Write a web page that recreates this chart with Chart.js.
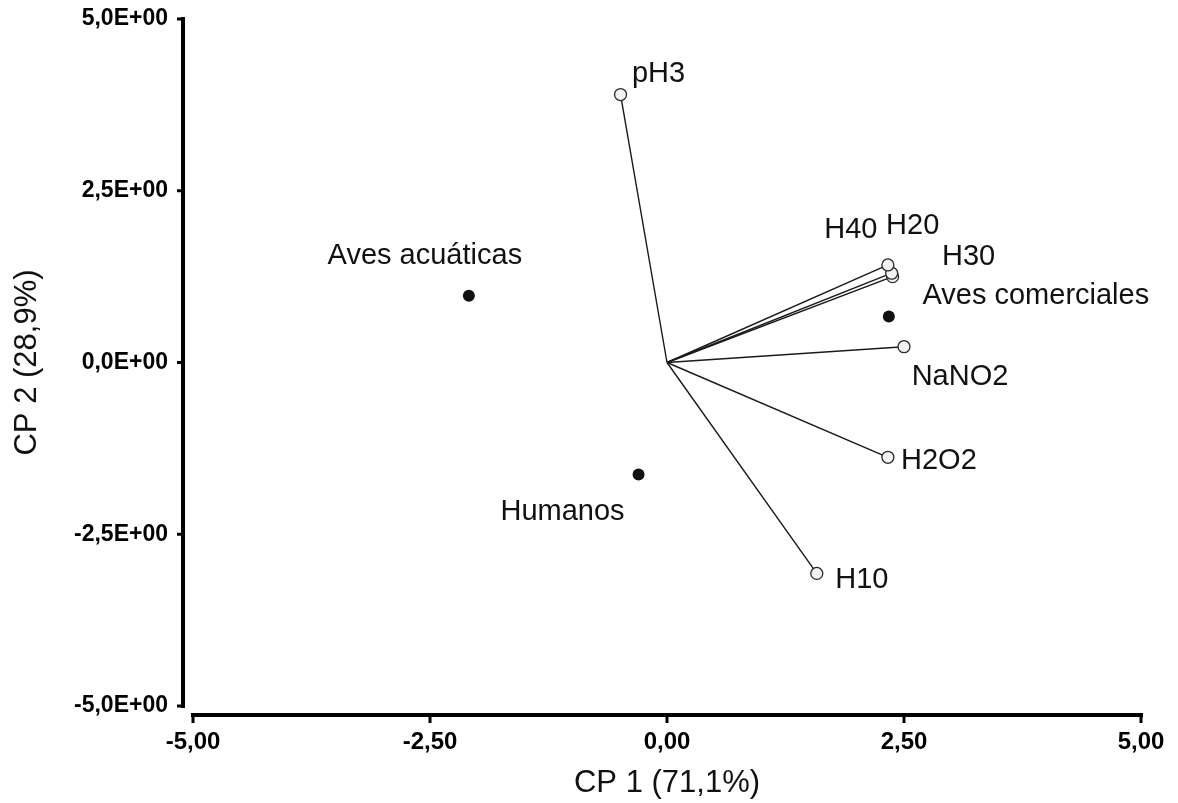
<!DOCTYPE html>
<html>
<head>
<meta charset="utf-8">
<script src="https://cdn.jsdelivr.net/npm/chart.js@4"></script>
<style>
  body { margin: 0; background: #fff; }
  #wrap { width: 1178px; height: 803px; }
</style>
</head>
<body>
<div id="wrap"><canvas id="myChart" width="1178" height="803"></canvas></div>
<script>
// variables (open circles, vectors from origin)
const varNames = ["pH3", "H40", "H20", "H30", "NaNO2", "H2O2", "H10"];
const varCP1 = [-0.49, 2.33, 2.37, 2.38, 2.50, 2.33, 1.58];
const varCP2 = [3.90, 1.42, 1.30, 1.25, 0.23, -1.38, -3.07];

// groups (filled circles)
const groupNames = ["Aves acuáticas", "Humanos", "Aves comerciales"];
const groupCP1 = [-2.09, -0.30, 2.34];
const groupCP2 = [0.97, -1.63, 0.67];

const xTicks = [-5, -2.5, 0, 2.5, 5];
const yTicks = [-5, -2.5, 0, 2.5, 5];

// label offsets in px (text centre relative to point)
const labelOffset = {
  "pH3": [38, -21],
  "H40": [-37, -35],
  "H20": [21, -47],
  "H30": [76, -20],
  "NaNO2": [56, 30],
  "H2O2": [51, 4],
  "H10": [45, 7],
  "Aves acuáticas": [-44, -40],
  "Humanos": [-76, 38],
  "Aves comerciales": [147, -20],
};

function fmtX(v) {
  return v.toFixed(2).replace(".", ",");
}
function fmtY(v) {
  const parts = v.toExponential(1).split("e");
  const sign = parts[1][0];
  const exp = parts[1].slice(1).padStart(2, "0");
  return parts[0].replace(".", ",") + "E" + sign + exp;
}

const datasets = [];
varNames.forEach((name, i) => {
  datasets.push({
    label: name,
    data: [{ x: 0, y: 0 }, { x: varCP1[i], y: varCP2[i] }],
    showLine: true,
    borderColor: "#1a1a1a",
    borderWidth: 1.4,
    pointRadius: [0, 6],
    pointBackgroundColor: "#f2f2f2",
    pointBorderColor: "#2a2a2a",
    pointBorderWidth: 1.3,
  });
});
datasets.push({
  label: "grupos",
  data: groupNames.map((n, i) => ({ x: groupCP1[i], y: groupCP2[i] })),
  showLine: false,
  pointRadius: 6,
  pointBackgroundColor: "#111",
  pointBorderColor: "#111",
  pointBorderWidth: 0,
});

// offset axes (Prism style) + point labels
const axesPlugin = {
  id: "axesPlugin",
  afterDraw(chart) {
    const ctx = chart.ctx;
    const xs = chart.scales.x;
    const ys = chart.scales.y;
    ctx.save();
    ctx.strokeStyle = "#000";
    ctx.lineWidth = 4;
    ctx.lineCap = "butt";
    // y axis
    const ax = xs.left - 10;
    ctx.beginPath();
    ctx.moveTo(ax, ys.getPixelForValue(5) - 2);
    ctx.lineTo(ax, ys.getPixelForValue(-5) + 2);
    ctx.stroke();
    ctx.lineWidth = 3;
    yTicks.forEach((t) => {
      const py = ys.getPixelForValue(t);
      ctx.beginPath();
      ctx.moveTo(ax - 6, py);
      ctx.lineTo(ax, py);
      ctx.stroke();
    });
    // x axis
    const ay = ys.bottom + 9;
    ctx.lineWidth = 4;
    ctx.beginPath();
    ctx.moveTo(xs.getPixelForValue(-5) - 2, ay);
    ctx.lineTo(xs.getPixelForValue(5) + 2, ay);
    ctx.stroke();
    ctx.lineWidth = 3;
    xTicks.forEach((t) => {
      const px = xs.getPixelForValue(t);
      ctx.beginPath();
      ctx.moveTo(px, ay);
      ctx.lineTo(px, ay + 8);
      ctx.stroke();
    });

    // labels
    ctx.fillStyle = "#111";
    ctx.font = "29px 'Liberation Sans', Arial, sans-serif";
    ctx.textAlign = "center";
    ctx.textBaseline = "middle";
    varNames.forEach((n, i) => {
      const o = labelOffset[n];
      ctx.fillText(n, xs.getPixelForValue(varCP1[i]) + o[0], ys.getPixelForValue(varCP2[i]) + o[1]);
    });
    groupNames.forEach((n, i) => {
      const o = labelOffset[n];
      ctx.fillText(n, xs.getPixelForValue(groupCP1[i]) + o[0], ys.getPixelForValue(groupCP2[i]) + o[1]);
    });
    ctx.restore();
  },
};

const ctx = document.getElementById("myChart").getContext("2d");
const myChart = new Chart(ctx, {
  type: "scatter",
  data: { datasets: datasets },
  plugins: [axesPlugin],
  options: {
    responsive: false,
    animation: false,
    layout: { padding: { top: 19, right: 37, left: 0, bottom: 0 } },
    plugins: { legend: { display: false }, tooltip: { enabled: false } },
    scales: {
      x: {
        type: "linear",
        min: -5,
        max: 5,
        afterBuildTicks: (s) => { s.ticks = xTicks.map((v) => ({ value: v })); },
        afterFit: (s) => {
          s.height = 97;
          s.paddingLeft = 0;
          s.paddingRight = 0;
        },
        grid: { display: false, drawTicks: false },
        border: { display: false },
        ticks: {
          padding: 22,
          color: "#000",
          font: { family: "'Liberation Sans', Arial", size: 24, weight: "bold" },
          callback: (v) => fmtX(v),
        },
        title: {
          display: true,
          text: "CP 1 (71,1%)",
          color: "#111",
          font: { family: "'Liberation Sans', Arial", size: 31 },
          padding: { top: 0, bottom: 1 },
        },
      },
      y: {
        type: "linear",
        min: -5,
        max: 5,
        afterBuildTicks: (s) => { s.ticks = yTicks.map((v) => ({ value: v })); },
        afterFit: (s) => {
          s.width = 193;
          s.paddingTop = 0;
          s.paddingBottom = 0;
        },
        grid: { display: false, drawTicks: false },
        border: { display: false },
        ticks: {
          padding: 25,
          color: "#000",
          font: { family: "'Liberation Sans', Arial", size: 23, weight: "bold" },
          callback: (v) => fmtY(v),
        },
        title: {
          display: true,
          text: "CP 2 (28,9%)",
          color: "#111",
          font: { family: "'Liberation Sans', Arial", size: 31 },
          padding: { top: 9, bottom: 0 },
        },
      },
    },
  },
});
</script>
</body>
</html>
